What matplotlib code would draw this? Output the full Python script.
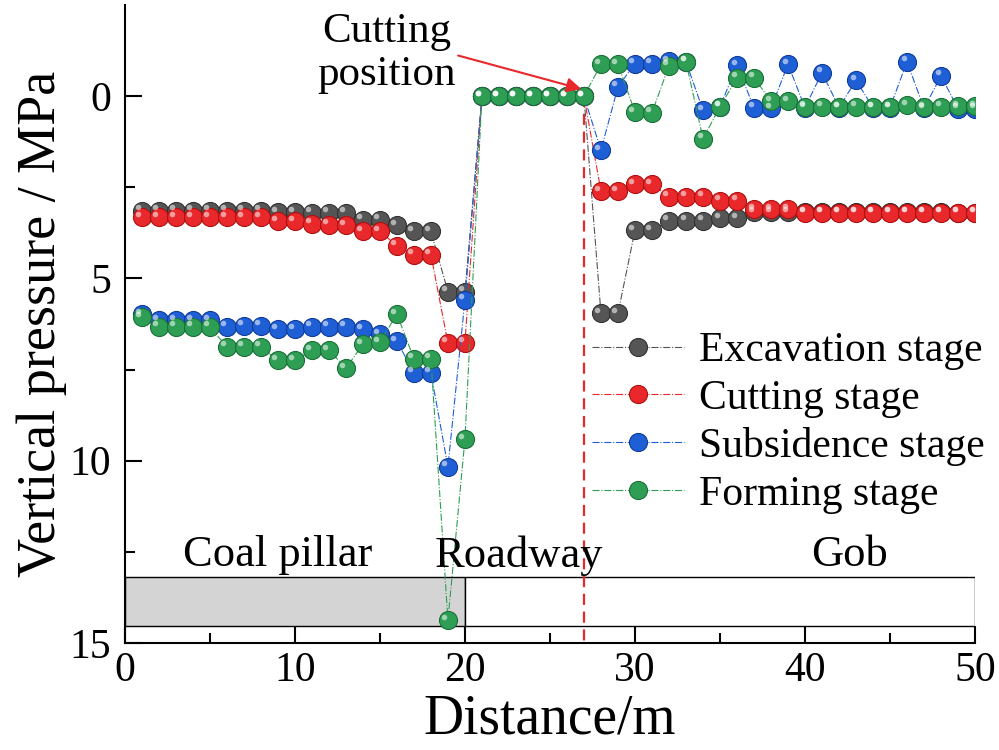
"""
Vertical pressure along the roof for four mining stages
"""

import numpy as np
import matplotlib
matplotlib.use('Agg')
import matplotlib.pyplot as plt
import matplotlib.patches as mpatches
from matplotlib.transforms import offset_copy

plt.rcParams['font.family'] = ['Liberation Serif', 'DejaVu Serif']

# Distance (m)
distance = np.arange(1, 51)

# Vertical pressure (MPa)
excavation = [3.14, 3.14, 3.14, 3.14, 3.14, 3.14, 3.14, 3.14, 3.18, 3.18,
              3.2, 3.2, 3.2, 3.39, 3.39, 3.54, 3.71, 3.71, 5.36, 5.36,
              0, 0, 0, 0, 0, 0, 0, 5.96, 5.96, 3.68,
              3.68, 3.42, 3.42, 3.42, 3.34, 3.34, 3.18, 3.18, 3.18, 3.18,
              3.18, 3.18, 3.18, 3.18, 3.18, 3.18, 3.18, 3.18, 3.2, 3.2]
cutting = [3.32, 3.32, 3.32, 3.32, 3.32, 3.32, 3.32, 3.32, 3.43, 3.43,
           3.5, 3.52, 3.54, 3.71, 3.71, 4.1, 4.35, 4.35, 6.77, 6.77,
           0, 0, 0, 0, 0, 0, 0, 2.6, 2.6, 2.42,
           2.42, 2.75, 2.75, 2.75, 2.87, 2.87, 3.1, 3.1, 3.1, 3.2,
           3.2, 3.2, 3.2, 3.2, 3.2, 3.2, 3.2, 3.2, 3.2, 3.2]
subsidence = [5.98, 6.14, 6.14, 6.14, 6.14, 6.33, 6.3, 6.3, 6.4, 6.4,
              6.33, 6.33, 6.33, 6.4, 6.53, 6.72, 7.59, 7.59, 10.17, 5.59,
              0, 0, 0, 0, 0, 0, 0, 1.48, -0.26, -0.9,
              -0.9, -0.97, -0.95, 0.38, 0.29, -0.85, 0.31, 0.33, -0.88, 0.31,
              -0.65, 0.31, -0.44, 0.31, 0.31, -0.95, 0.33, -0.56, 0.34, 0.34]
forming = [6.07, 6.33, 6.33, 6.33, 6.33, 6.88, 6.88, 6.88, 7.25, 7.25,
           6.97, 6.97, 7.46, 6.81, 6.75, 5.98, 7.2, 7.2, 14.38, 9.42,
           0, 0, 0, 0, 0, 0, 0, -0.88, -0.88, 0.43,
           0.45, -0.84, -0.95, 1.16, 0.29, -0.51, -0.51, 0.13, 0.13, 0.29,
           0.29, 0.3, 0.29, 0.3, 0.3, 0.25, 0.3, 0.29, 0.27, 0.27]

series_names = ['Excavation stage', 'Cutting stage', 'Subsidence stage', 'Forming stage']
colors = ['#555555', '#e8282b', '#1f5fd6', '#2e9e55']
edge_colors = ['#333333', '#b01010', '#103c9a', '#1b7038']

fig = plt.figure(figsize=(9.99, 7.5), dpi=100)
ax = fig.add_axes([0.125, 0.143, 0.851, 0.85])

# Zone bars along the bottom
ax.add_patch(mpatches.Rectangle((0, 13.2), 20, 1.35, facecolor='#d4d4d4',
                                edgecolor='black', linewidth=1.0, zorder=1))
ax.add_patch(mpatches.Rectangle((20, 13.2), 30, 1.35, facecolor='white',
                                edgecolor='black', linewidth=1.0, zorder=1))

handles = []
for vals, name, c, ec in zip([excavation, cutting, subsidence, forming],
                             series_names, colors, edge_colors):
    h, = ax.plot(distance, vals, linestyle='-.', linewidth=0.8, color=c,
                 marker='o', markersize=13, markerfacecolor=c,
                 markeredgecolor=ec, markeredgewidth=0.8, label=name, zorder=3)
    # small highlight to give a sphere look
    hl = offset_copy(ax.transData, fig=fig, x=-2.5, y=2.5, units='points')
    ax.plot(distance, vals, linestyle='none', marker='o', markersize=4,
            color='white', alpha=0.55, markeredgewidth=0, transform=hl, zorder=4)
    handles.append(h)

# Cutting position
ax.vlines(27, 0, 15, colors='#e8282b', linestyles=(0, (5, 3)), linewidth=1.6, zorder=2)
ax.annotate('', xy=(26.85, -0.2), xytext=(19.6, -1.12),
            arrowprops=dict(arrowstyle='-|>', color='#e8282b', lw=1.5,
                            mutation_scale=22, shrinkA=0, shrinkB=0), zorder=5)
ax.text(15.4, -1.18, 'Cutting\nposition', fontsize=31, ha='center', va='center',
        linespacing=1.15)

# Zone labels
ax.text(9.0, 12.6, 'Coal pillar', fontsize=32, ha='center', va='center')
ax.text(23.2, 12.6, 'Roadway', fontsize=32, ha='center', va='center')
ax.text(42.6, 12.6, 'Gob', fontsize=32, ha='center', va='center')

ax.set_xlim(0, 50)
ax.set_ylim(15, -2.5)
ax.set_xticks([0, 10, 20, 30, 40, 50])
ax.set_xticks([5, 15, 25, 35, 45], minor=True)
ax.set_yticks([0, 5, 10, 15])
ax.set_yticks([2.5, 7.5, 12.5], minor=True)
ax.tick_params(axis='both', which='major', direction='in', length=12, width=1.5,
               labelsize=30)
ax.tick_params(axis='both', which='minor', direction='in', length=7, width=1.5)
ax.tick_params(axis='y', pad=10)
ax.tick_params(axis='x', pad=6)

for side in ['top', 'right']:
    ax.spines[side].set_visible(False)
for side in ['left', 'bottom']:
    ax.spines[side].set_linewidth(1.5)

ax.set_ylabel('Vertical pressure / MPa', fontsize=39, labelpad=2)
ax.set_xlabel('Distance/m', fontsize=40, labelpad=3)

ax.legend(handles=handles, loc='upper left', bbox_to_anchor=(0.55, 0.488),
          frameon=False, fontsize=30, handlelength=2.2, handletextpad=0.35,
          labelspacing=0.22, borderpad=0, borderaxespad=0)

plt.savefig('out.png', dpi=100)
plt.close()
